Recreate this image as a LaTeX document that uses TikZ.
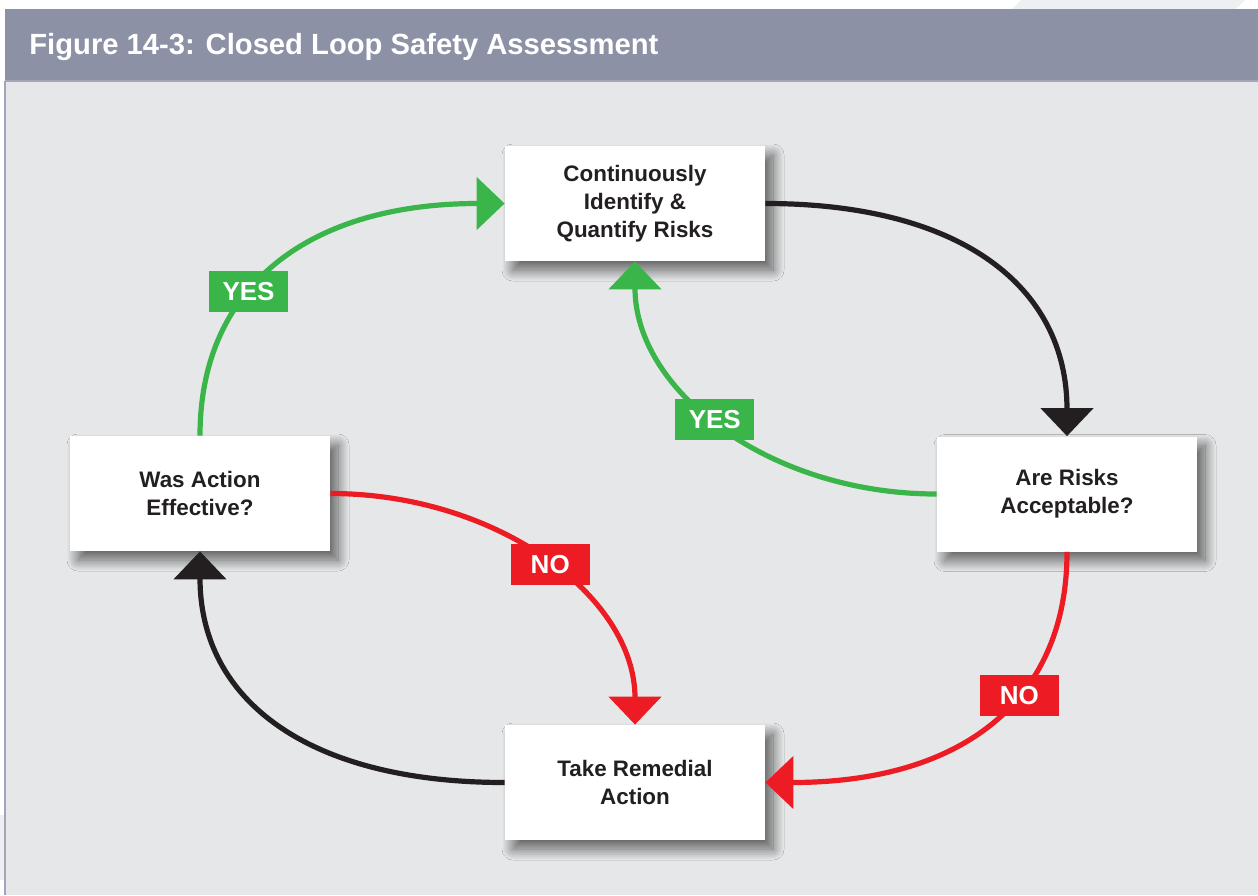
\documentclass[tikz,border=0pt]{standalone}
\usepackage{fontspec}
\setmainfont{Liberation Sans}
\usetikzlibrary{arrows.meta,shadows.blur}

\begin{document}
\begin{tikzpicture}[x = 0.5pt,
                    y = -0.5pt,
                    line join = round]


  % COLORS
  \definecolor{barcolor}{rgb}{ 0.549,0.569,0.651 }
  \definecolor{panelcolor}{rgb}{ 0.902,0.906,0.910 }
  \definecolor{rimcolor}{rgb}{ 0.635,0.651,0.725 }
  \definecolor{decocolor}{rgb}{ 0.933,0.937,0.953 }
  \definecolor{inkcolor}{rgb}{ 0.137,0.122,0.125 }
  \definecolor{yescolor}{rgb}{ 0.227,0.710,0.290 }
  \definecolor{nocolor}{rgb}{ 0.929,0.110,0.141 }


  % STYLES
  \tikzstyle{stepbox} = [fill=white, text=inkcolor, align=center, inner sep=0pt,
                         minimum width=130pt, minimum height=57.5pt,
                         font=\fontsize{11.2}{14}\selectfont\bfseries,
                         blur shadow={shadow xshift=4pt, shadow yshift=-4.5pt,
                                      shadow blur radius=5.5pt, shadow blur steps=30,
                                      shadow opacity=60}]
  \tikzstyle{flow_dark} = [draw=inkcolor, line width=2.6pt, -{Triangle[width=26pt, length=14pt]}]
  \tikzstyle{flow_yes} = [flow_dark, draw=yescolor, -{Triangle[width=26pt, length=14pt, fill=yescolor]}]
  \tikzstyle{flow_no} = [flow_dark, draw=nocolor, -{Triangle[width=26pt, length=14pt, fill=nocolor]}]
  \tikzstyle{tag_yes} = [fill=yescolor, text=white, inner sep=0pt,
                         minimum width=39.5pt, minimum height=20.5pt,
                         font=\fontsize{13}{13}\selectfont\bfseries]
  \tikzstyle{tag_no} = [tag_yes, fill=nocolor]


  % FRAME
  \useasboundingbox (0,0) rectangle (1258,895);
  \fill[decocolor] (1012,9) -- (1021,0) -- (1245,0) -- (1236,9) -- cycle;
  \fill[decocolor] (0,815) rectangle (5,880);
  \fill[panelcolor] (5,81) rectangle (1258,895);
  \draw[rimcolor, line width=0.8pt] (5,81) -- (5,895);
  \draw[rimcolor, line width=0.8pt] (5,81) -- (1258,81);
  \fill[barcolor] (5,9) rectangle (1258,80);
  \node[anchor=base west, text=white, inner sep=0pt,
        font=\fontsize{14.6}{16}\selectfont\bfseries] (title) at (29,54)
        {Figure 14-3: Closed Loop Safety Assessment};


  % BOXES
  \node[stepbox] (box_identify) at (635,203.5) {Continuously\\Identify \&\\Quantify Risks};
  \node[stepbox] (box_accept) at (1067,494) {Are Risks\\Acceptable?};
  \node[stepbox] (box_remedy) at (635,782.5) {Take Remedial\\Action};
  \node[stepbox] (box_effect) at (200,493.5) {Was Action\\Effective?};


  % CONNECTORS
  \draw[flow_dark] (box_identify.east) .. controls +(195,0) and +(0,-150) .. (box_accept.north);
  \draw[flow_yes] (box_accept.west) .. controls +(-168,0) and +(0,129) .. (box_identify.south)
        node[tag_yes, pos=0.525] (yes_inner) {YES};
  \draw[flow_no] (box_accept.south) .. controls +(0,150) and +(195,0) .. (box_remedy.east)
        node[tag_no, pos=0.39] (no_outer) {NO};
  \draw[flow_dark] (box_remedy.west) .. controls +(-195,0) and +(0,150) .. (box_effect.south);
  \draw[flow_no] (box_effect.east) .. controls +(167,0) and +(0,-128) .. (box_remedy.north)
        node[tag_no, pos=0.515] (no_inner) {NO};
  \draw[flow_yes] (box_effect.north) .. controls +(0,-150) and +(-195,0) .. (box_identify.west)
        node[tag_yes, pos=0.39] (yes_outer) {YES};

\end{tikzpicture}
\end{document}
